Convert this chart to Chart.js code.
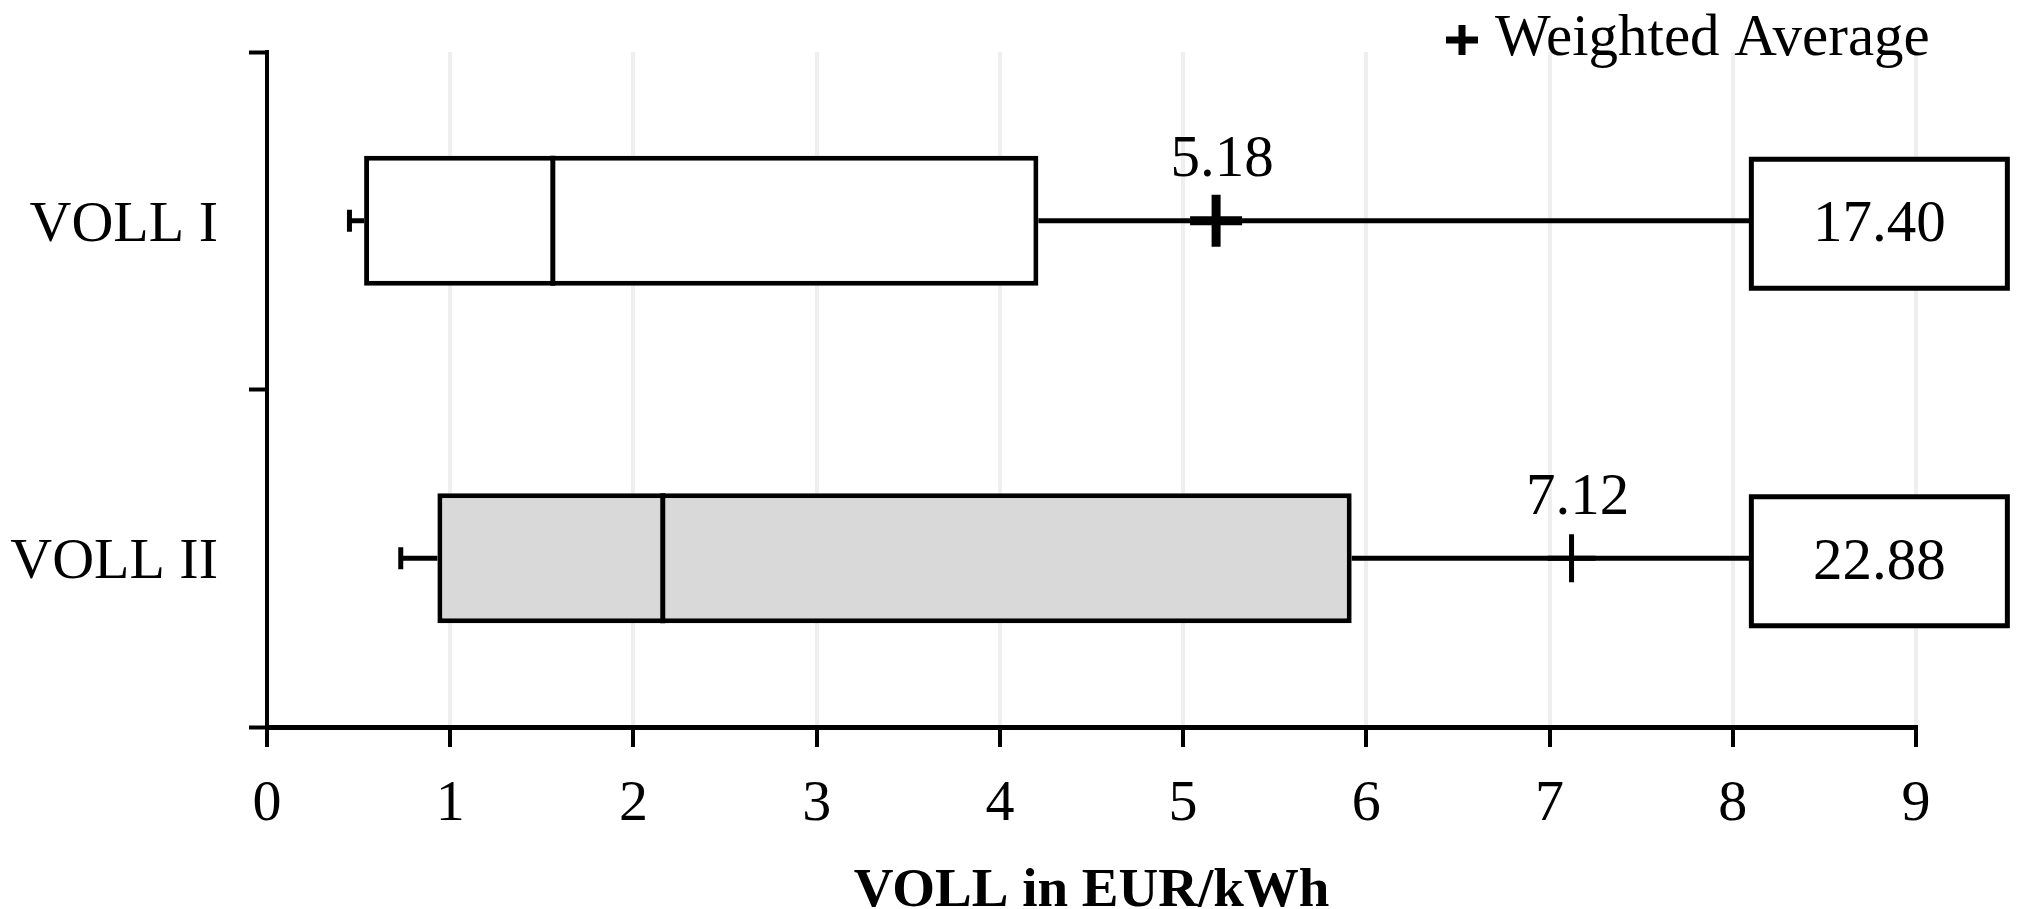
<!DOCTYPE html>
<html>
<head>
<meta charset="utf-8">
<script src="https://cdn.jsdelivr.net/npm/chart.js@4.4.0/dist/chart.umd.min.js"></script>
<style>
  html, body { margin: 0; padding: 0; background: #fff; }
  #wrap { width: 2025px; height: 909px; }
</style>
</head>
<body>
<div id="wrap"><canvas id="vollChart"></canvas></div>
<script>
const categories = ['VOLL I', 'VOLL II'];
const whiskerLow = [0.45, 0.73];
const quartile1 = [0.53, 0.93];
const medians = [1.56, 2.16];
const quartile3 = [4.21, 5.92];
const weightedAvg = [5.18, 7.12];
const maxValues = [17.40, 22.88];
const xTicks = [0, 1, 2, 3, 4, 5, 6, 7, 8, 9];
const boxFills = ['#ffffff', '#d9d9d9'];
const legendText = 'Weighted Average';
const axisTitle = 'VOLL in EUR/kWh';

const SERIF = "'Liberation Serif', 'Times New Roman', serif";

// whiskers, medians, labels and the off-scale max boxes
const boxPlotExtras = {
    id: 'boxPlotExtras',
    afterDatasetsDraw(chart) {
        const ctx = chart.ctx;
        const xs = chart.scales.x;
        const bars = chart.getDatasetMeta(0).data;
        ctx.save();
        ctx.strokeStyle = '#000';
        ctx.fillStyle = '#000';
        ctx.lineCap = 'butt';

        bars.forEach((bar, i) => {
            const yc = bar.y;
            const half = bar.height / 2;

            // median
            const xm = xs.getPixelForValue(medians[i]);
            ctx.lineWidth = 5;
            ctx.beginPath();
            ctx.moveTo(xm, yc - half);
            ctx.lineTo(xm, yc + half);
            ctx.stroke();

            // lower whisker + cap
            const xLow = xs.getPixelForValue(whiskerLow[i]);
            const xQ1 = xs.getPixelForValue(quartile1[i]);
            ctx.beginPath();
            ctx.moveTo(xLow, yc);
            ctx.lineTo(xQ1, yc);
            ctx.stroke();
            ctx.beginPath();
            ctx.moveTo(xLow, yc - 11);
            ctx.lineTo(xLow, yc + 11);
            ctx.stroke();

            // max label box (value is beyond the axis)
            const boxW = 256, boxH = 129;
            const bx = xs.getPixelForValue(8.8) - boxW / 2;
            const by = yc + 3 - boxH / 2;

            // upper whisker to the box
            const xQ3 = xs.getPixelForValue(quartile3[i]);
            ctx.beginPath();
            ctx.moveTo(xQ3, yc);
            ctx.lineTo(bx, yc);
            ctx.stroke();

            ctx.fillStyle = '#fff';
            ctx.fillRect(bx, by, boxW, boxH);
            ctx.strokeRect(bx, by, boxW, boxH);
            ctx.fillStyle = '#000';
            ctx.font = '59px ' + SERIF;
            ctx.textAlign = 'center';
            ctx.textBaseline = 'middle';
            ctx.fillText(maxValues[i].toFixed(2), bx + boxW / 2, by + boxH / 2 + 2);

            // weighted average label
            const xa = xs.getPixelForValue(weightedAvg[i]);
            ctx.fillText(weightedAvg[i].toFixed(2), xa + 6, yc - 60);
        });

        // legend
        ctx.lineWidth = 7;
        ctx.beginPath();
        ctx.moveTo(1446, 40);
        ctx.lineTo(1478, 40);
        ctx.moveTo(1462, 25);
        ctx.lineTo(1462, 55);
        ctx.stroke();
        ctx.font = '59px ' + SERIF;
        ctx.textAlign = 'left';
        ctx.textBaseline = 'alphabetic';
        ctx.fillText(legendText, 1495, 55);
        ctx.restore();
    }
};

const ctx = document.getElementById('vollChart').getContext('2d');
new Chart(ctx, {
    type: 'bar',
    data: {
        labels: categories,
        datasets: [
            {
                label: 'Box',
                data: categories.map((c, i) => [quartile1[i], quartile3[i]]),
                backgroundColor: boxFills,
                borderColor: '#000',
                borderWidth: 5,
                borderSkipped: false,
                categoryPercentage: 1,
                barPercentage: 0.385
            },
            {
                type: 'scatter',
                label: legendText,
                data: categories.map((c, i) => ({ x: weightedAvg[i], y: c })),
                pointStyle: 'cross',
                pointRadius: [26, 24],
                pointBorderWidth: [9, 5],
                pointBorderColor: '#000',
                borderColor: '#000',
                showLine: false
            }
        ]
    },
    options: {
        indexAxis: 'y',
        responsive: true,
        maintainAspectRatio: false,
        animation: false,
        events: [],
        layout: { padding: { top: 52, right: 109, left: 0, bottom: 0 } },
        plugins: {
            legend: { display: false },
            tooltip: { enabled: false }
        },
        scales: {
            x: {
                type: 'linear',
                min: xTicks[0],
                max: xTicks[xTicks.length - 1],
                ticks: {
                    stepSize: 1,
                    color: '#000',
                    padding: 23,
                    maxRotation: 0,
                    font: { family: SERIF, size: 58 }
                },
                grid: {
                    color: '#efefef',
                    lineWidth: 4,
                    tickColor: '#000',
                    tickWidth: 4,
                    tickLength: 20
                },
                border: { display: true, color: '#000', width: 5 },
                title: {
                    display: true,
                    text: axisTitle,
                    color: '#000',
                    padding: 0,
                    font: { family: SERIF, size: 55, weight: 'bold', lineHeight: 0.62 }
                },
                afterFit(scale) { scale.height = 182; }
            },
            y: {
                type: 'category',
                offset: true,
                ticks: {
                    color: '#000',
                    padding: 31,
                    labelOffset: 5,
                    font: { family: SERIF, size: 58, lineHeight: 0.7 }
                },
                grid: {
                    offset: true,
                    drawOnChartArea: false,
                    tickColor: '#000',
                    tickWidth: 4,
                    tickLength: 18
                },
                border: { display: true, color: '#000', width: 4 },
                afterFit(scale) { scale.width = 267; }
            }
        }
    },
    plugins: [boxPlotExtras]
});
</script>
</body>
</html>
